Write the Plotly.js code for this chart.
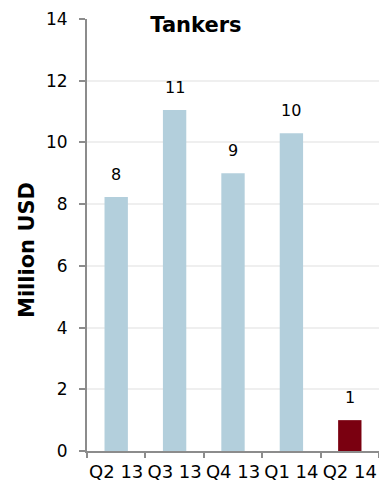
<!DOCTYPE html>
<html>
<head>
<meta charset="utf-8">
<script src="https://cdn.plot.ly/plotly-3.0.1.min.js"></script>
<style>html,body{margin:0;padding:0;background:#fff;}#chart{width:379px;height:485px;}</style>
</head>
<body>
<div id="chart"></div>
<script>
const categories = ["Q2 13", "Q3 13", "Q4 13", "Q1 14", "Q2 14"];
const values = [8.23, 11.05, 9.0, 10.3, 1.0];
const labels = ["8", "11", "9", "10", "1"];
const barColors = ["#B3CFDC", "#B3CFDC", "#B3CFDC", "#B3CFDC", "#7A0010"];
const yTicks = [0, 2, 4, 6, 8, 10, 12, 14];

const font = "DejaVu Sans, Verdana, sans-serif";

const trace = {
  type: "bar",
  x: categories,
  y: values,
  marker: {color: barColors},
  width: 0.4,
  hoverinfo: "none"
};

const annotations = categories.map((c, i) => ({
  x: c, y: values[i], xref: "x", yref: "y",
  text: labels[i], showarrow: false,
  yanchor: "bottom", yshift: 11,
  font: {family: font, size: 16, color: "#000"}
}));

annotations.push({
  text: "<b>Million USD</b>", showarrow: false, textangle: -90,
  xref: "paper", yref: "paper",
  x: (26.5 - 87) / 292, y: (451 - 250.5) / 432,
  xanchor: "center", yanchor: "middle",
  font: {family: font, size: 21, color: "#000"}
});

const layout = {
  width: 379, height: 485,
  margin: {l: 87, r: 0, t: 19, b: 34, pad: 0},
  paper_bgcolor: "#fff", plot_bgcolor: "#fff",
  showlegend: false,
  title: {
    text: "<b>Tankers</b>",
    font: {family: font, size: 21, color: "#000"},
    xref: "paper", x: 0.373, xanchor: "center",
    yref: "container", y: 1 - 24.5/485, yanchor: "middle"
  },
  xaxis: {
    type: "category",
    range: [-0.5, 4.5],
    showline: true, linecolor: "#8c8c8c", linewidth: 2,
    ticks: "outside", tickson: "boundaries", ticklen: 5, tickcolor: "#8c8c8c", tickwidth: 2,
    tickangle: 0,
    ticklabelstandoff: 3,
    showgrid: false,
    tickfont: {family: font, size: 18, color: "#000"},
    fixedrange: true
  },
  yaxis: {
    range: [0, 14],
    tickvals: yTicks,
    ticktext: yTicks.map(String),
    showline: true, linecolor: "#8c8c8c", linewidth: 2,
    ticks: "outside", ticklen: 6, tickcolor: "#8c8c8c", tickwidth: 2,
    ticklabelstandoff: 8,
    showgrid: true, gridcolor: "#efefef", gridwidth: 2,
    zeroline: false,
    tickfont: {family: font, size: 17, color: "#000"},
    fixedrange: true
  },
  bargap: 0.6,
  annotations: annotations
};

Plotly.newPlot("chart", [trace], layout, {displayModeBar: false, staticPlot: true});
</script>
</body>
</html>
